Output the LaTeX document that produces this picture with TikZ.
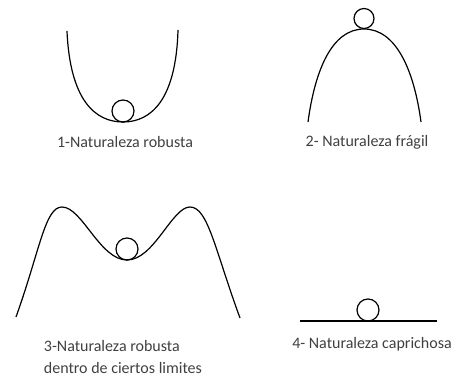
\documentclass[tikz,border=0pt]{standalone}
\usepackage{fontspec}
\setmainfont{Carlito}
\usepackage{tikz}
\usetikzlibrary{positioning,calc}

\begin{document}
\begin{tikzpicture}[x=1pt, y=-1pt, line width=1.2pt]
\useasboundingbox (0,0) rectangle (470,379);
% 1 - valle
\draw (67,31) .. controls (70,100) and (95,122) .. (123,122) .. controls (151,122) and (176,100) .. (178,30);
\node[circle, draw, minimum size=22pt, inner sep=0pt] (b1) at (123,111) {};
\node[font=\fontsize{16}{19}\selectfont, color=black!75] (l1) at (125,142) {1-Naturaleza robusta};
% 2 - cima
\draw (308,122) .. controls (315,70) and (332,29) .. (364,29) .. controls (396,29) and (414,70) .. (421,122);
\node[circle, draw, minimum size=20pt, inner sep=0pt] (b2) at (364,18.5) {};
\node[font=\fontsize{16}{19}\selectfont, color=black!75] (l2) at (367,142) {2- Naturaleza frágil};
% 3 - dos picos
\draw (16,317) .. controls (40,250) and (45,207) .. (62,207) .. controls (82,207) and (100,260) .. (127,260) .. controls (154,260) and (172,207) .. (190,207) .. controls (208,207) and (215,250) .. (240,318);
\node[circle, draw, minimum size=22pt, inner sep=0pt] (b3) at (127,249) {};
\node[font=\fontsize{16}{22}\selectfont, color=black!75, align=left, anchor=north west] (l3) at (40,336) {3-Naturaleza robusta\\dentro de ciertos limites};
% 4 - plano
\coordinate (p4a) at (300,321);
\coordinate (p4b) at (437,321);
\draw (p4a) -- (p4b);
\node[circle, draw, minimum size=22pt, inner sep=0pt] (b4) at (368,310) {};
\node[font=\fontsize{16}{19}\selectfont, color=black!75] (l4) at (372,344) {4- Naturaleza caprichosa};
\end{tikzpicture}
\end{document}
